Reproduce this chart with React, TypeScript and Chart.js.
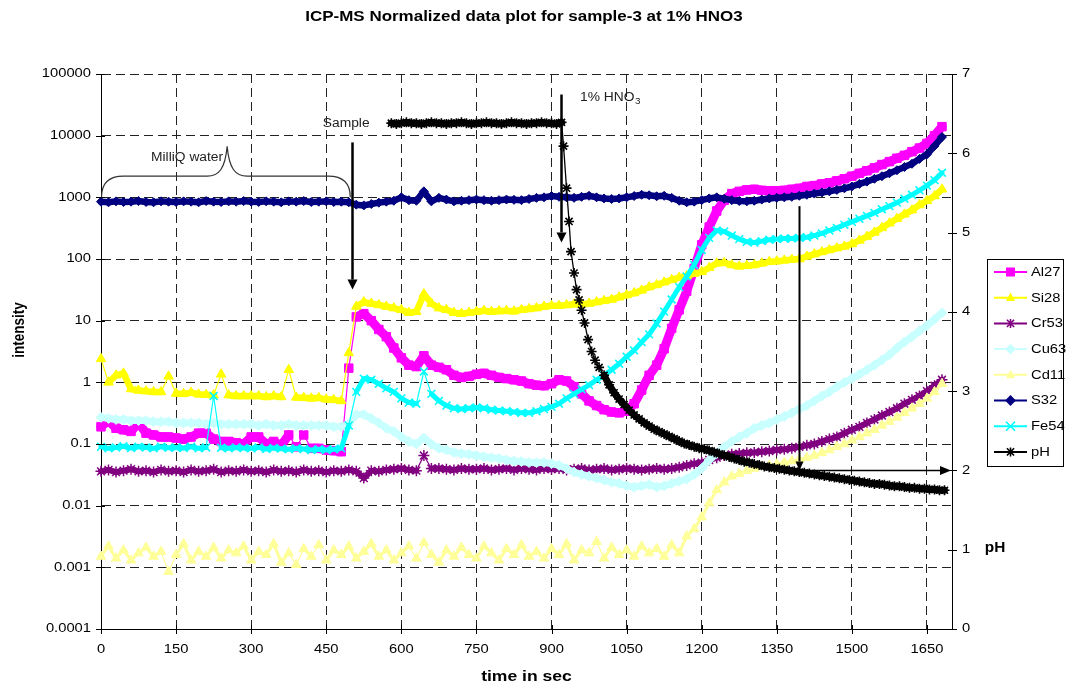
import React, { useEffect, useRef } from 'react';
import { Chart, registerables } from 'chart.js';

Chart.register(...registerables);

// ---------- DATA ----------
const times = [
  0, 15, 30, 45, 60, 75, 90, 105, 120, 135,
  150, 165, 180, 195, 210, 225, 240, 255, 270, 285,
  300, 315, 330, 345, 360, 375, 390, 405, 420, 435,
  450, 465, 480, 495, 510, 525, 540, 555, 570, 585,
  600, 615, 630, 645, 660, 675, 690, 705, 720, 735,
  750, 765, 780, 795, 810, 825, 840, 855, 870, 885,
  900, 915, 930, 945, 960, 975, 990, 1005, 1020, 1035,
  1050, 1065, 1080, 1095, 1110, 1125, 1140, 1155, 1170, 1185,
  1200, 1215, 1230, 1245, 1260, 1275, 1290, 1305, 1320, 1335,
  1350, 1365, 1380, 1395, 1410, 1425, 1440, 1455, 1470, 1485,
  1500, 1515, 1530, 1545, 1560, 1575, 1590, 1605, 1620, 1635,
  1650, 1665, 1680,
];

const al27 = [
  0.19, 0.24, 0.18, 0.17, 0.16, 0.22, 0.15, 0.14, 0.13, 0.13,
  0.125, 0.12, 0.13, 0.15, 0.15, 0.12, 0.11, 0.11, 0.105, 0.10,
  0.13, 0.13, 0.10, 0.11, 0.095, 0.14, 0.09, 0.14, 0.085, 0.085,
  0.08, 0.078, 0.075, 1.7, 11.5, 13, 10, 7.2, 5.5, 3.6,
  2.5, 1.9, 1.8, 2.7, 1.9, 1.75, 1.6, 1.3, 1.2, 1.25,
  1.35, 1.4, 1.3, 1.2, 1.15, 1.1, 1.05, 0.95, 0.9, 0.88,
  0.95, 1.1, 1.05, 0.85, 0.65, 0.5, 0.42, 0.36, 0.33, 0.32,
  0.34, 0.45, 0.75, 1.3, 1.9, 3.5, 7.5, 15, 30, 70,
  170, 330, 600, 900, 1150, 1250, 1320, 1350, 1300, 1280,
  1280, 1300, 1350, 1400, 1500, 1550, 1650, 1720, 1850, 2000,
  2200, 2450, 2700, 3000, 3400, 3800, 4300, 4800, 5500, 6300,
  7500, 10000, 14000,
];

const si28 = [
  2.4, 1.0, 1.3, 1.4, 0.78, 0.74, 0.72, 0.7, 0.7, 1.25,
  0.66, 0.65, 0.68, 0.64, 0.63, 0.62, 1.35, 0.62, 0.6, 0.6,
  0.6, 0.6, 0.58, 0.6, 0.58, 1.6, 0.57, 0.56, 0.55, 0.56,
  0.53, 0.52, 0.5, 3.0, 17, 20, 19, 18, 17, 16,
  15, 13.5, 14, 27, 19, 16, 15, 13.5, 13, 13.5,
  14, 14.5, 14, 14.3, 14.5, 14.2, 15, 15.5, 16, 17,
  17.5, 17.5, 18, 18.5, 18.4, 19, 20, 21, 22, 24,
  26, 28, 31, 35, 38, 42, 46, 50, 53, 58,
  62, 72, 85, 87, 80, 76, 78, 80, 85, 90,
  92, 95, 98, 100, 110, 120, 130, 140, 150, 160,
  175, 200, 230, 270, 320, 380, 450, 530, 620, 750,
  880, 1050, 1350,
];

const cr53 = [
  0.036, 0.038, 0.035, 0.037, 0.039, 0.036, 0.037, 0.035, 0.038, 0.036,
  0.037, 0.035, 0.038, 0.036, 0.037, 0.039, 0.035, 0.037, 0.036, 0.038,
  0.036, 0.037, 0.035, 0.038, 0.036, 0.037, 0.035, 0.038, 0.036, 0.037,
  0.035, 0.037, 0.036, 0.038, 0.036, 0.028, 0.037, 0.036, 0.038, 0.039,
  0.04, 0.038, 0.037, 0.065, 0.04, 0.04, 0.039, 0.038, 0.04, 0.039,
  0.039, 0.04, 0.038, 0.039, 0.04, 0.038, 0.04, 0.039, 0.038, 0.04,
  0.039, 0.04, 0.038, 0.039, 0.04, 0.038, 0.039, 0.04, 0.038, 0.039,
  0.04, 0.039, 0.038, 0.039, 0.04, 0.039, 0.04, 0.042, 0.045, 0.048,
  0.05, 0.055, 0.06, 0.065, 0.068, 0.07, 0.072, 0.073, 0.075, 0.077,
  0.08, 0.082, 0.085, 0.09, 0.095, 0.1, 0.11, 0.12, 0.13, 0.15,
  0.17, 0.19, 0.22, 0.25, 0.29, 0.33, 0.38, 0.45, 0.52, 0.6,
  0.72, 0.88, 1.1,
];

const cu63 = [
  0.27, 0.26, 0.25, 0.25, 0.24, 0.24, 0.24, 0.23, 0.23, 0.23,
  0.22, 0.22, 0.22, 0.22, 0.21, 0.22, 0.21, 0.21, 0.21, 0.21,
  0.21, 0.2, 0.21, 0.2, 0.2, 0.21, 0.2, 0.2, 0.2, 0.2,
  0.2, 0.19, 0.19, 0.21, 0.3, 0.3, 0.26, 0.22, 0.18, 0.16,
  0.13, 0.11, 0.1, 0.125, 0.1, 0.085, 0.08, 0.073, 0.07, 0.068,
  0.065, 0.062, 0.06, 0.058, 0.055, 0.053, 0.052, 0.05, 0.05, 0.05,
  0.048, 0.045, 0.04, 0.035, 0.032, 0.03, 0.028, 0.026, 0.024, 0.023,
  0.021, 0.02, 0.021, 0.022, 0.02, 0.021, 0.023, 0.025, 0.027, 0.032,
  0.04, 0.055, 0.07, 0.09, 0.11, 0.13, 0.15, 0.18, 0.2, 0.22,
  0.25, 0.28, 0.32, 0.37, 0.42, 0.5, 0.6, 0.7, 0.85, 1.0,
  1.15, 1.35, 1.6, 1.9, 2.3, 2.8, 3.6, 4.5, 5.5, 6.8,
  8.3, 10.5, 13.4,
];

const cd11 = [
  0.0015, 0.0022, 0.0014, 0.0019, 0.0013, 0.0017, 0.0021, 0.0015, 0.0018, 0.00085,
  0.0016, 0.0024, 0.0013, 0.0018, 0.0015, 0.0021, 0.0014, 0.0019, 0.0017, 0.0022,
  0.0013, 0.0018, 0.0016, 0.0024, 0.0012, 0.0017, 0.0011, 0.002, 0.0015, 0.0023,
  0.0013, 0.0019, 0.0016, 0.0022, 0.0014, 0.0018, 0.0024, 0.0015, 0.0019, 0.0013,
  0.0017, 0.0022, 0.0014, 0.0025, 0.0016, 0.0012, 0.0019, 0.0015, 0.0021, 0.0016,
  0.0014, 0.0022, 0.0017, 0.0013, 0.002, 0.0016, 0.0023, 0.0015, 0.0018, 0.0014,
  0.002, 0.0016, 0.0024, 0.0013, 0.0019, 0.0017, 0.0026, 0.0014, 0.0021, 0.0016,
  0.0019, 0.0015, 0.0022, 0.0017, 0.002, 0.0015, 0.0023, 0.0017, 0.0032, 0.0042,
  0.0065, 0.011, 0.018, 0.024, 0.03, 0.033, 0.037, 0.04, 0.043, 0.045,
  0.047, 0.05, 0.053, 0.056, 0.06, 0.065, 0.072, 0.08, 0.09, 0.1,
  0.115, 0.13, 0.15, 0.17, 0.2, 0.23, 0.27, 0.32, 0.38, 0.45,
  0.55, 0.7, 0.95,
];

const s32 = [
  850, 830, 860, 840, 850, 870, 840, 830, 860, 850,
  840, 860, 850, 830, 870, 850, 840, 860, 850, 870,
  850, 840, 860, 850, 830, 860, 850, 870, 840, 850,
  860, 840, 850, 830, 760, 740, 780, 820, 850, 880,
  1000, 900, 880, 1250, 860, 980, 920, 860, 880, 900,
  920, 900, 880, 900, 920, 910, 900, 940, 980, 1000,
  1050, 1020, 1000, 980, 1020, 1060, 1000, 960, 940, 960,
  1000, 1050, 1100, 1080, 1040, 1060, 980, 880, 830, 850,
  900, 960, 1000, 950, 900, 870, 860, 880, 920, 960,
  980, 1000, 1020, 1060, 1100, 1150, 1200, 1250, 1320, 1400,
  1500, 1650, 1800, 2000, 2200, 2450, 2750, 3100, 3500, 4200,
  5000, 6800, 9500,
];

const fe54 = [
  0.09, 0.085, 0.088, 0.092, 0.086, 0.09, 0.088, 0.085, 0.09, 0.087,
  0.088, 0.086, 0.09, 0.085, 0.088, 0.6, 0.087, 0.085, 0.088, 0.086,
  0.085, 0.088, 0.083, 0.086, 0.084, 0.082, 0.085, 0.083, 0.08, 0.082,
  0.08, 0.082, 0.085, 0.2, 0.7, 1.15, 1.1, 0.95, 0.8, 0.7,
  0.55, 0.47, 0.45, 1.5, 0.65, 0.5, 0.42, 0.38, 0.37, 0.38,
  0.39, 0.38, 0.36, 0.35, 0.34, 0.33, 0.32, 0.32, 0.34, 0.37,
  0.4, 0.45, 0.55, 0.65, 0.77, 0.9, 1.1, 1.3, 1.6, 2.0,
  2.6, 3.3, 4.5, 6, 9, 14, 22, 35, 52, 80,
  140, 220, 290, 280, 240, 210, 190, 185, 195, 205,
  210, 215, 215, 220, 225, 240, 260, 290, 320, 360,
  400, 450, 500, 560, 640, 720, 820, 950, 1100, 1300,
  1550, 1900, 2500,
];

const phTimes = [
  580, 590, 600, 610, 620, 630, 640, 650, 660, 670,
  680, 690, 700, 710, 720, 730, 740, 750, 760, 770,
  780, 790, 800, 810, 820, 830, 840, 850, 860, 870,
  880, 890, 900, 910, 920,
  924, 930, 935, 939, 945, 950, 955, 960, 966, 973, 980, 987, 995,
  1005, 1015, 1025, 1035, 1045, 1055, 1065, 1075, 1085, 1095,
  1105, 1115, 1125, 1135, 1145, 1155, 1165, 1175, 1185, 1195,
  1205, 1215, 1225, 1235, 1245, 1255, 1265, 1275, 1285, 1295,
  1305, 1315, 1325, 1335, 1345, 1355, 1365, 1375, 1385, 1395,
  1405, 1415, 1425, 1435, 1445, 1455, 1465, 1475, 1485, 1495,
  1505, 1515, 1525, 1535, 1545, 1555, 1565, 1575, 1585, 1595,
  1605, 1615, 1625, 1635, 1645, 1655, 1665, 1675, 1685,
];

const phValues = [
  6.38, 6.37, 6.38, 6.39, 6.38, 6.38, 6.37, 6.38, 6.39, 6.38,
  6.38, 6.37, 6.38, 6.38, 6.39, 6.38, 6.37, 6.38, 6.38, 6.39,
  6.38, 6.38, 6.37, 6.38, 6.39, 6.38, 6.38, 6.37, 6.38, 6.38,
  6.39, 6.38, 6.38, 6.37, 6.39,
  6.09, 5.56, 5.14, 4.76, 4.49, 4.28, 4.15, 4.02, 3.86, 3.65, 3.5, 3.39, 3.3,
  3.2, 3.08, 2.98, 2.9, 2.83, 2.76, 2.7, 2.65, 2.6, 2.56,
  2.52, 2.49, 2.46, 2.43, 2.4, 2.37, 2.34, 2.32, 2.3, 2.28,
  2.27, 2.25, 2.23, 2.21, 2.19, 2.17, 2.15, 2.13, 2.11, 2.1,
  2.08, 2.07, 2.05, 2.04, 2.03, 2.02, 2.01, 2.0, 1.99, 1.98,
  1.97, 1.96, 1.95, 1.94, 1.93, 1.92, 1.91, 1.9, 1.89, 1.88,
  1.87, 1.86, 1.85, 1.84, 1.83, 1.83, 1.82, 1.81, 1.8, 1.8,
  1.79, 1.78, 1.78, 1.77, 1.77, 1.76, 1.76, 1.75, 1.75,
];

const seriesNames = ['Al27', 'Si28', 'Cr53', 'Cu63', 'Cd11', 'S32', 'Fe54', 'pH'];
const xTicks = [0, 150, 300, 450, 600, 750, 900, 1050, 1200, 1350, 1500, 1650];
const xTickLabels = ['0', '150', '300', '450', '600', '750', '900', '1050', '1200', '1350', '1500', '1650'];
const yTicks = [0.0001, 0.001, 0.01, 0.1, 1, 10, 100, 1000, 10000, 100000];
const yTickLabels = ['0.0001', '0.001', '0.01', '0.1', '1', '10', '100', '1000', '10000', '100000'];
const phTicks = [0, 1, 2, 3, 4, 5, 6, 7];
const phTickLabels = ['0', '1', '2', '3', '4', '5', '6', '7'];

// annotation anchors (data units)
const braceSpec = { t0: 0, t1: 498, tPeak: 252, vEnd: 1000, vMid: 2200, vPeak: 6700 };
const milliQLabel = { text: 'MilliQ water', t: 100, v: 4450 };
const sampleLabel = { text: 'Sample', t: 443, v: 15700 };
const acidLabel = { text: '1% HNO', sub: '3', t: 957, v: 41600 };
const sampleArrow = { t: 502, vFrom: 7770, vTo: 32 };
const acidArrow = { t: 919, vFrom: 46500, vTo: 186 };
const phArrow = { t: 1395, vFrom: 720, ph: 2, tEnd: 1698 };
const phThinRange = [921, 1000];

// ---------- STYLES ----------
const FONT = '"Liberation Sans", Arial, sans-serif';
const styles = [
  { color: '#FF00FF', fill: '#FF00FF', point: 'rect', r: 6, bw: 9, pbw: 1 },
  { color: '#FFFF00', fill: '#FFFF00', point: 'triangle', r: 5.5, bw: 6.5, pbw: 1 },
  { color: '#800080', fill: '#800080', point: 'star', r: 5.5, bw: 6, pbw: 1.5 },
  { color: '#C8FFFF', fill: '#C8FFFF', point: 'rectRot', r: 5, bw: 7, pbw: 1 },
  { color: '#FFFF99', fill: '#FFFF99', point: 'triangle', r: 5.5, bw: 3, pbw: 1 },
  { color: '#000080', fill: '#000080', point: 'rectRot', r: 4.5, bw: 6.5, pbw: 1 },
  { color: '#00FFFF', fill: '#00FFFF', point: 'crossRot', r: 5.5, bw: 5, pbw: 1.6 },
  { color: '#000000', fill: '#000000', point: 'star', r: 5, bw: 7, pbw: 1.6 },
];

function txt(ctx: CanvasRenderingContext2D, s: string, x: number, y: number, font: string,
  align: CanvasTextAlign = 'left', sx = 1.18, color = '#000') {
  ctx.save();
  ctx.font = font;
  ctx.fillStyle = color;
  ctx.textAlign = align;
  ctx.textBaseline = 'middle';
  ctx.translate(x, y);
  ctx.scale(sx, 1);
  ctx.fillText(s, 0, 0);
  ctx.restore();
}

function seg(ctx: CanvasRenderingContext2D, x1: number, y1: number, x2: number, y2: number) {
  ctx.beginPath();
  ctx.moveTo(x1, y1);
  ctx.lineTo(x2, y2);
  ctx.stroke();
}

function arrow(ctx: CanvasRenderingContext2D, x1: number, y1: number, x2: number, y2: number, w: number, head: number, hw: number) {
  const ang = Math.atan2(y2 - y1, x2 - x1);
  const bx = x2 - Math.cos(ang) * head;
  const by = y2 - Math.sin(ang) * head;
  ctx.save();
  ctx.strokeStyle = '#000';
  ctx.fillStyle = '#000';
  ctx.lineWidth = w;
  seg(ctx, x1, y1, bx, by);
  ctx.beginPath();
  ctx.moveTo(x2, y2);
  ctx.lineTo(bx + Math.sin(ang) * hw / 2, by - Math.cos(ang) * hw / 2);
  ctx.lineTo(bx - Math.sin(ang) * hw / 2, by + Math.cos(ang) * hw / 2);
  ctx.closePath();
  ctx.fill();
  ctx.restore();
}

function marker(ctx: CanvasRenderingContext2D, style: string, x: number, y: number, r: number, fill: string, stroke: string) {
  ctx.save();
  ctx.fillStyle = fill;
  ctx.strokeStyle = stroke;
  ctx.lineWidth = 1.6;
  ctx.beginPath();
  if (style === 'rect') {
    ctx.rect(x - r, y - r, 2 * r, 2 * r);
    ctx.fill();
  } else if (style === 'triangle') {
    ctx.moveTo(x, y - r * 1.15);
    ctx.lineTo(x + r, y + r * 0.75);
    ctx.lineTo(x - r, y + r * 0.75);
    ctx.closePath();
    ctx.fill();
  } else if (style === 'rectRot') {
    ctx.moveTo(x, y - r * 1.2);
    ctx.lineTo(x + r * 1.2, y);
    ctx.lineTo(x, y + r * 1.2);
    ctx.lineTo(x - r * 1.2, y);
    ctx.closePath();
    ctx.fill();
  } else if (style === 'star') {
    ctx.moveTo(x, y - r); ctx.lineTo(x, y + r);
    ctx.moveTo(x - r * 0.8, y - r * 0.8); ctx.lineTo(x + r * 0.8, y + r * 0.8);
    ctx.moveTo(x + r * 0.8, y - r * 0.8); ctx.lineTo(x - r * 0.8, y + r * 0.8);
    ctx.stroke();
  } else if (style === 'crossRot') {
    ctx.moveTo(x - r, y - r); ctx.lineTo(x + r, y + r);
    ctx.moveTo(x + r, y - r); ctx.lineTo(x - r, y + r);
    ctx.stroke();
  }
  ctx.restore();
}

// flag isolated spikes so they are drawn as thin connector lines
function spikeFlags(vals: number[]) {
  const lg = vals.map((v) => Math.log10(v));
  return lg.map((v, i) => {
    const a = i > 0 ? v - lg[i - 1] : null;
    const b = i < lg.length - 1 ? v - lg[i + 1] : null;
    if (a === null || b === null) {
      const d = (a ?? b) as number;
      return Math.abs(d) > 0.18;
    }
    return (a > 0.18 && b > 0.18) || (a < -0.18 && b < -0.18);
  });
}

const overlayPlugin = {
  id: 'overlay',
  afterDraw(chart: any) {
    const ctx: CanvasRenderingContext2D = chart.ctx;
    const { x, y, y2 } = chart.scales;
    const a = chart.chartArea;
    const tickFont = `12.5px ${FONT}`;

    ctx.save();
    ctx.strokeStyle = '#000';
    ctx.lineWidth = 1;
    yTicks.forEach((v) => {
      const py = Math.round(y.getPixelForValue(v)) + 0.5;
      seg(ctx, a.left - 5, py, a.left + 4, py);
    });
    phTicks.forEach((v) => {
      const py = Math.round(y2.getPixelForValue(v)) + 0.5;
      seg(ctx, a.right - 4, py, a.right + 5, py);
    });
    xTicks.forEach((v) => {
      const px = Math.round(x.getPixelForValue(v)) + 0.5;
      seg(ctx, px, a.bottom - 4, px, a.bottom + 5);
    });
    ctx.restore();

    yTicks.forEach((v, i) => txt(ctx, yTickLabels[i], a.left - 10, y.getPixelForValue(v), tickFont, 'right'));
    phTicks.forEach((v, i) => txt(ctx, phTickLabels[i], a.right + 10, y2.getPixelForValue(v), tickFont, 'left'));
    xTicks.forEach((v, i) => txt(ctx, xTickLabels[i], x.getPixelForValue(v), a.bottom + 21, tickFont, 'center'));

    txt(ctx, 'ICP-MS Normalized data plot for sample-3 at 1% HNO3', 524, 17, `bold 14.5px ${FONT}`, 'center', 1.17);
    txt(ctx, 'time in sec', (a.left + a.right) / 2, 677, `bold 15px ${FONT}`, 'center', 1.17);
    txt(ctx, 'pH', 995, 548, `bold 14px ${FONT}`, 'center', 1.1);
    ctx.save();
    ctx.translate(20, 330);
    ctx.rotate(-Math.PI / 2);
    ctx.scale(1, 1.17);
    ctx.font = `bold 13.5px ${FONT}`;
    ctx.fillStyle = '#000';
    ctx.textAlign = 'center';
    ctx.textBaseline = 'middle';
    ctx.fillText('intensity', 0, 0);
    ctx.restore();

    const annFont = `12px ${FONT}`;
    txt(ctx, milliQLabel.text, x.getPixelForValue(milliQLabel.t), y.getPixelForValue(milliQLabel.v), annFont, 'left', 1.15, '#222');
    txt(ctx, sampleLabel.text, x.getPixelForValue(sampleLabel.t), y.getPixelForValue(sampleLabel.v), annFont, 'left', 1.15, '#222');
    {
      const ax = x.getPixelForValue(acidLabel.t);
      const ay = y.getPixelForValue(acidLabel.v);
      txt(ctx, acidLabel.text, ax, ay, annFont, 'left', 1.15, '#222');
      ctx.save();
      ctx.font = annFont;
      const w = ctx.measureText(acidLabel.text).width * 1.15;
      ctx.restore();
      txt(ctx, acidLabel.sub, ax + w + 0.5, ay + 4, `8.5px ${FONT}`, 'left', 1.15, '#222');
    }

    {
      const x0 = x.getPixelForValue(braceSpec.t0) + 0.5;
      const x1 = x.getPixelForValue(braceSpec.t1);
      const xp = x.getPixelForValue(braceSpec.tPeak);
      const ye = y.getPixelForValue(braceSpec.vEnd);
      const ym = y.getPixelForValue(braceSpec.vMid);
      const yp = y.getPixelForValue(braceSpec.vPeak);
      ctx.save();
      ctx.strokeStyle = '#333';
      ctx.lineWidth = 1.2;
      ctx.beginPath();
      ctx.moveTo(x0, ye);
      ctx.bezierCurveTo(x0, ym + 6, x0 + 8, ym, x0 + 22, ym);
      ctx.lineTo(xp - 20, ym);
      ctx.bezierCurveTo(xp - 8, ym, xp - 2, ym - 8, xp, yp);
      ctx.bezierCurveTo(xp + 2, ym - 8, xp + 8, ym, xp + 20, ym);
      ctx.lineTo(x1 - 22, ym);
      ctx.bezierCurveTo(x1 - 8, ym, x1, ym + 6, x1, ye);
      ctx.stroke();
      ctx.restore();
    }

    {
      const sx = Math.round(x.getPixelForValue(sampleArrow.t)) + 0.5;
      arrow(ctx, sx, y.getPixelForValue(sampleArrow.vFrom), sx, y.getPixelForValue(sampleArrow.vTo), 2.5, 10, 10);
      const hx = Math.round(x.getPixelForValue(acidArrow.t)) + 0.5;
      arrow(ctx, hx, y.getPixelForValue(acidArrow.vFrom), hx, y.getPixelForValue(acidArrow.vTo), 2.5, 10, 10);
      const px = Math.round(x.getPixelForValue(phArrow.t)) + 0.5;
      const py = y2.getPixelForValue(phArrow.ph);
      arrow(ctx, px, y.getPixelForValue(phArrow.vFrom), px, py, 2, 9, 8);
      arrow(ctx, px, py, x.getPixelForValue(phArrow.tEnd), py, 1.6, 11, 9);
    }

    {
      const lx = 987.5, ly = 259.5, lw = 76, lh = 207;
      ctx.save();
      ctx.fillStyle = '#fff';
      ctx.fillRect(lx, ly, lw, lh);
      ctx.strokeStyle = '#000';
      ctx.lineWidth = 1;
      ctx.strokeRect(lx, ly, lw, lh);
      ctx.restore();
      seriesNames.forEach((name, i) => {
        const yy = 272 + i * 25.7;
        const st = styles[i];
        ctx.save();
        ctx.strokeStyle = st.color;
        ctx.lineWidth = 2;
        seg(ctx, 994, yy, 1027, yy);
        ctx.restore();
        marker(ctx, st.point, 1010.5, yy, 4.5, st.fill, st.color);
        txt(ctx, name, 1031, yy + 0.5, `12.5px ${FONT}`, 'left', 1.18);
      });
    }
  },
};

export default function App() {
  const ref = useRef<HTMLCanvasElement>(null);

  useEffect(() => {
    if (!ref.current) return;
    Chart.defaults.font.family = FONT;
    const series = [al27, si28, cr53, cu63, cd11, s32, fe54];
    const common = { tension: 0, clip: false, borderJoinStyle: 'round', borderCapStyle: 'round' };
    const datasets: any[] = series.map((vals, i) => {
      const spikes = spikeFlags(vals);
      const bw = styles[i].bw;
      return {
        ...common,
        label: seriesNames[i],
        data: times.map((t, j) => ({ x: t, y: vals[j] })),
        yAxisID: 'y',
        borderColor: styles[i].color,
        backgroundColor: styles[i].fill,
        pointBackgroundColor: styles[i].fill,
        pointBorderColor: styles[i].color,
        pointStyle: styles[i].point,
        pointRadius: styles[i].r,
        pointBorderWidth: styles[i].pbw,
        borderWidth: bw,
        segment: {
          borderWidth: (c: any) => {
            const i0 = c.p0DataIndex, i1 = c.p1DataIndex;
            const jump = Math.abs(Math.log10(vals[i1] / vals[i0]));
            return spikes[i0] || spikes[i1] || jump > 0.45 ? 1.2 : bw;
          },
        },
        order: 10 - i,
      };
    });
    datasets.push({
      ...common,
      label: seriesNames[7],
      data: phTimes.map((t, j) => ({ x: t, y: phValues[j] })),
      yAxisID: 'y2',
      borderColor: styles[7].color,
      backgroundColor: styles[7].fill,
      pointBackgroundColor: styles[7].fill,
      pointBorderColor: styles[7].color,
      pointStyle: styles[7].point,
      pointRadius: styles[7].r,
      pointBorderWidth: styles[7].pbw,
      borderWidth: styles[7].bw,
      segment: {
        borderWidth: (c: any) => {
          const t0 = c.p0.parsed.x;
          return t0 >= phThinRange[0] - 2 && t0 < phThinRange[1] ? 1.3 : styles[7].bw;
        },
      },
      order: 1,
    });

    const chart = new Chart(ref.current, {
      type: 'line',
      data: { datasets },
      options: {
        responsive: false,
        animation: false,
        devicePixelRatio: 1,
        events: [],
        layout: { padding: { left: 0, right: 74, top: 74, bottom: 32 } },
        plugins: { legend: { display: false }, tooltip: { enabled: false }, title: { display: false } },
        scales: {
          x: {
            type: 'linear',
            min: 0,
            max: 1700,
            afterBuildTicks: (s: any) => { s.ticks = xTicks.map((v) => ({ value: v })); },
            afterFit: (s: any) => { s.height = 30; },
            ticks: { display: false },
            grid: { color: '#222', lineWidth: 1, drawTicks: false },
            border: { color: '#000', width: 1, dash: [9, 5] },
          },
          y: {
            type: 'logarithmic',
            position: 'left',
            min: 0.0001,
            max: 100000,
            afterBuildTicks: (s: any) => { s.ticks = yTicks.map((v) => ({ value: v })); },
            afterFit: (s: any) => { s.width = 101; },
            ticks: { display: false },
            grid: { color: '#222', lineWidth: 1, drawTicks: false },
            border: { color: '#000', width: 1, dash: [9, 5] },
          },
          y2: {
            type: 'linear',
            position: 'right',
            min: 0,
            max: 7,
            afterBuildTicks: (s: any) => { s.ticks = phTicks.map((v) => ({ value: v })); },
            afterFit: (s: any) => { s.width = 40; },
            ticks: { display: false },
            grid: { drawOnChartArea: false, drawTicks: false },
            border: { color: '#000', width: 1 },
          },
        },
      } as any,
      plugins: [overlayPlugin],
    });
    return () => chart.destroy();
  }, []);

  return (
    <div style={{ position: 'absolute', left: 0, top: 0, width: 1066, height: 691, background: '#fff' }}>
      <canvas ref={ref} width={1066} height={691} style={{ display: 'block', width: 1066, height: 691 }} />
    </div>
  );
}
